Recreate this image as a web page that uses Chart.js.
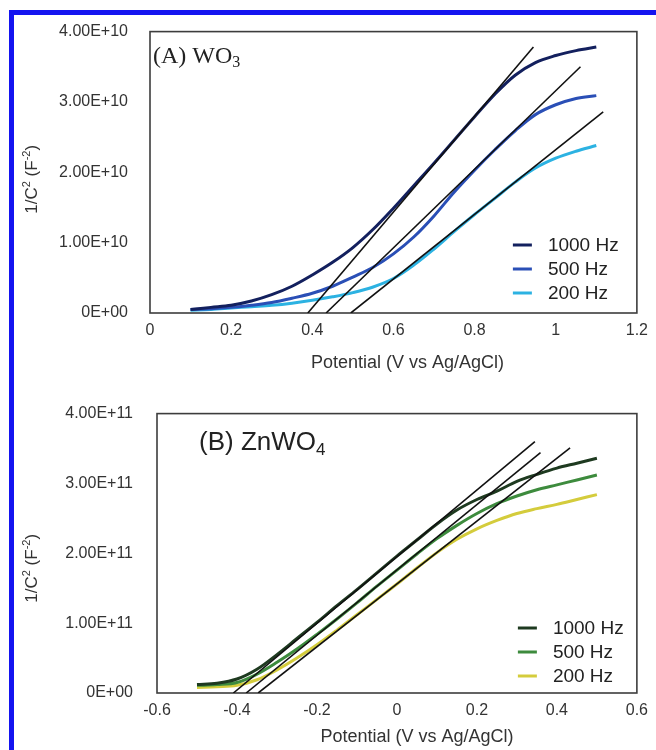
<!DOCTYPE html>
<html>
<head>
<meta charset="utf-8">
<script src="https://cdn.jsdelivr.net/npm/chart.js@4.4.1/dist/chart.umd.min.js"></script>
<style>
  html, body { margin: 0; padding: 0; background: #fff; }
  body { width: 656px; height: 750px; position: relative; overflow: hidden; }
  canvas { position: absolute; left: 0; }
  #chartA { top: 0; }
  #chartB { top: 380px; }
  .frame { position: absolute; background: #1414f0; }
  .frame.top { left: 9px; top: 10px; width: 647px; height: 5px; }
  .frame.left { left: 9px; top: 10px; width: 5px; height: 740px; }
</style>
</head>
<body>
<canvas id="chartA" width="656" height="380"></canvas>
<canvas id="chartB" width="656" height="370"></canvas>
<div class="frame top"></div>
<div class="frame left"></div>
<script>
const freqLabels = ['1000 Hz', '500 Hz', '200 Hz'];
const xTitle = 'Potential (V vs Ag/AgCl)';

// (A) WO3
const potA = [0.10, 0.15, 0.20, 0.25, 0.30, 0.35, 0.40, 0.45, 0.50, 0.55, 0.60,
              0.65, 0.70, 0.75, 0.80, 0.85, 0.90, 0.95, 1.00, 1.05, 1.10];
const wo3_1000 = [0.05e10, 0.08e10, 0.11e10, 0.17e10, 0.26e10, 0.38e10, 0.54e10, 0.72e10, 0.93e10, 1.19e10, 1.49e10,
                  1.81e10, 2.13e10, 2.46e10, 2.79e10, 3.11e10, 3.38e10, 3.56e10, 3.66e10, 3.73e10, 3.78e10];
const wo3_500 = [0.05e10, 0.06e10, 0.08e10, 0.11e10, 0.15e10, 0.21e10, 0.28e10, 0.38e10, 0.51e10, 0.65e10, 0.84e10,
                 1.08e10, 1.38e10, 1.72e10, 2.03e10, 2.32e10, 2.59e10, 2.82e10, 2.96e10, 3.05e10, 3.09e10];
const wo3_200 = [0.04e10, 0.05e10, 0.07e10, 0.09e10, 0.11e10, 0.14e10, 0.18e10, 0.23e10, 0.29e10, 0.37e10, 0.49e10,
                 0.68e10, 0.91e10, 1.16e10, 1.40e10, 1.63e10, 1.86e10, 2.06e10, 2.20e10, 2.30e10, 2.38e10];
// Mott-Schottky fit lines, one per frequency: end points
const wo3FitX = [[0.389, 0.945], [0.434, 1.061], [0.495, 1.117]];
const wo3FitY = [[0, 3.78e10], [0, 3.50e10], [0, 2.86e10]];
const xTicksA = ['0', '0.2', '0.4', '0.6', '0.8', '1', '1.2'];
const yTicksA = ['0E+00', '1.00E+10', '2.00E+10', '3.00E+10', '4.00E+10'];

// (B) ZnWO4
const potB = [-0.50, -0.45, -0.40, -0.35, -0.30, -0.25, -0.20, -0.15, -0.10, -0.05, 0.00,
              0.05, 0.10, 0.15, 0.20, 0.25, 0.30, 0.35, 0.40, 0.45, 0.50];
const znwo4_1000 = [0.12e11, 0.14e11, 0.20e11, 0.34e11, 0.55e11, 0.78e11, 1.01e11, 1.25e11, 1.48e11, 1.72e11, 1.96e11,
                    2.19e11, 2.42e11, 2.62e11, 2.77e11, 2.89e11, 3.03e11, 3.13e11, 3.22e11, 3.29e11, 3.36e11];
const znwo4_500 = [0.11e11, 0.12e11, 0.15e11, 0.27e11, 0.44e11, 0.63e11, 0.84e11, 1.06e11, 1.29e11, 1.53e11, 1.76e11,
                   1.99e11, 2.21e11, 2.40e11, 2.57e11, 2.71e11, 2.82e11, 2.91e11, 2.98e11, 3.05e11, 3.12e11];
const znwo4_200 = [0.08e11, 0.09e11, 0.11e11, 0.19e11, 0.33e11, 0.50e11, 0.69e11, 0.90e11, 1.12e11, 1.34e11, 1.56e11,
                   1.79e11, 2.01e11, 2.20e11, 2.35e11, 2.47e11, 2.57e11, 2.64e11, 2.70e11, 2.77e11, 2.84e11];
const znwo4FitX = [[-0.409, 0.345], [-0.377, 0.359], [-0.347, 0.433]];
const znwo4FitY = [[0, 3.60e11], [0, 3.44e11], [0, 3.51e11]];
const xTicksB = ['-0.6', '-0.4', '-0.2', '0', '0.2', '0.4', '0.6'];
const yTicksB = ['0E+00', '1.00E+11', '2.00E+11', '3.00E+11', '4.00E+11'];

const SANS = "'Liberation Sans', Arial, Helvetica, sans-serif";
const SERIF = "'Liberation Serif', 'Times New Roman', serif";

function pairs(xs, ys) {
  return xs.map((x, i) => ({ x: x, y: ys[i] }));
}

function buildDatasets(xs, series, colors, fitX, fitY) {
  const out = [];
  fitX.forEach((fx, i) => {
    out.push({ data: pairs(fx, fitY[i]), borderColor: '#111', borderWidth: 1.6, order: 0, fit: true });
  });
  series.forEach((ys, i) => {
    out.push({ label: freqLabels[i], data: pairs(xs, ys), borderColor: colors[i], borderWidth: 3,
               tension: 0.35, order: 1 });
  });
  return out;
}

// text made of runs with their own size / baseline shift (sub- and superscripts)
function drawRuns(ctx, runs, x, y, center) {
  const widths = runs.map(r => { ctx.font = r.font; return ctx.measureText(r.text).width; });
  let cx = center ? x - widths.reduce((s, w) => s + w, 0) / 2 : x;
  runs.forEach((r, i) => {
    ctx.font = r.font;
    ctx.fillText(r.text, cx, y + (r.dy || 0));
    cx += widths[i];
  });
}

const yTitleRuns = [
  { text: '1/C', font: `17px ${SANS}` },
  { text: '2', font: `11px ${SANS}`, dy: -7 },
  { text: ' (F', font: `17px ${SANS}` },
  { text: '-2', font: `11px ${SANS}`, dy: -7 },
  { text: ')', font: `17px ${SANS}` }
];

// frame, panel tag, legend and axis titles
function makeDecor(cfg) {
  return {
    id: 'panelDecor',
    beforeDatasetsDraw(chart) {
      const { ctx, chartArea: a } = chart;
      ctx.save();
      ctx.strokeStyle = '#3d3d3d';
      ctx.lineWidth = 1.6;
      ctx.strokeRect(a.left, a.top, a.right - a.left, a.bottom - a.top);
      ctx.restore();
    },
    afterDraw(chart) {
      const { ctx, chartArea: a } = chart;
      ctx.save();
      ctx.fillStyle = '#222';
      ctx.textAlign = 'left';
      ctx.textBaseline = 'alphabetic';
      drawRuns(ctx, cfg.tag, a.left + cfg.tagAt[0], a.top + cfg.tagAt[1], false);

      ctx.font = `19px ${SANS}`;
      ctx.textBaseline = 'middle';
      chart.data.datasets.filter(d => !d.fit).forEach((d, i) => {
        const x = a.right + cfg.legendAt[0];
        const y = a.bottom + cfg.legendAt[1] + i * 24;
        ctx.strokeStyle = d.borderColor;
        ctx.lineWidth = 3;
        ctx.beginPath();
        ctx.moveTo(x, y);
        ctx.lineTo(x + 19, y);
        ctx.stroke();
        ctx.fillText(d.label, x + 35, y + 1);
      });

      ctx.textAlign = 'center';
      ctx.font = `18px ${SANS}`;
      ctx.fillStyle = '#333';
      ctx.fillText(xTitle, (a.left + a.right) / 2 + cfg.xTitleShift, a.bottom + cfg.xTitleGap);

      ctx.textAlign = 'left';
      ctx.textBaseline = 'alphabetic';
      ctx.translate(37, (a.top + a.bottom) / 2 + cfg.yTitleShift);
      ctx.rotate(-Math.PI / 2);
      drawRuns(ctx, yTitleRuns, 0, 0, true);
      ctx.restore();
    }
  };
}

function axisOpts(min, max, step, labels, pad, fit) {
  return {
    type: 'linear',
    min: min,
    max: max,
    grid: { display: false, drawTicks: false },
    border: { display: false },
    afterFit: fit,
    ticks: {
      stepSize: step,
      padding: pad,
      color: '#333',
      font: { family: SANS, size: 16 },
      callback: (v, i) => labels[i]
    }
  };
}

function makeChart(id, datasets, o) {
  return new Chart(document.getElementById(id), {
    type: 'line',
    data: { datasets: datasets },
    options: {
      responsive: false,
      animation: false,
      layout: { autoPadding: false, padding: { top: o.padTop, right: o.padRight, bottom: 0, left: 0 } },
      elements: { point: { radius: 0 } },
      plugins: { legend: { display: false }, tooltip: { enabled: false } },
      scales: {
        x: axisOpts(o.xMin, o.xMax, 0.2, o.xTicks, 8, s => { s.height = o.xHeight; }),
        y: axisOpts(0, o.yMax, o.yMax / 4, o.yTicks, o.yPad, s => { s.width = o.yWidth; })
      }
    },
    plugins: [makeDecor(o.decor)]
  });
}

makeChart('chartA',
  buildDatasets(potA, [wo3_1000, wo3_500, wo3_200], ['#13205e', '#2a4fb6', '#2cb2e2'], wo3FitX, wo3FitY),
  {
    padTop: 24, padRight: 14, xHeight: 67, yWidth: 150, yPad: 22,
    xMin: 0, xMax: 1.2, yMax: 4e10, xTicks: xTicksA, yTicks: yTicksA,
    decor: {
      tag: [{ text: '(A) WO', font: `24px ${SERIF}` }, { text: '3', font: `16px ${SERIF}`, dy: 4 }],
      tagAt: [3, 31], legendAt: [-124, -68], xTitleShift: 14, xTitleGap: 50, yTitleShift: 7
    }
  });

makeChart('chartB',
  buildDatasets(potB, [znwo4_1000, znwo4_500, znwo4_200], ['#1e3a20', '#3d8b3d', '#d4cc3c'], znwo4FitX, znwo4FitY),
  {
    padTop: 27, padRight: 10, xHeight: 57, yWidth: 157, yPad: 24,
    xMin: -0.6, xMax: 0.6, yMax: 4e11, xTicks: xTicksB, yTicks: yTicksB,
    decor: {
      tag: [{ text: '(B) ZnWO', font: `26px ${SANS}` }, { text: '4', font: `17px ${SANS}`, dy: 5 }],
      tagAt: [42, 36], legendAt: [-119, -65], xTitleShift: 20, xTitleGap: 44, yTitleShift: 15
    }
  });
</script>
</body>
</html>
